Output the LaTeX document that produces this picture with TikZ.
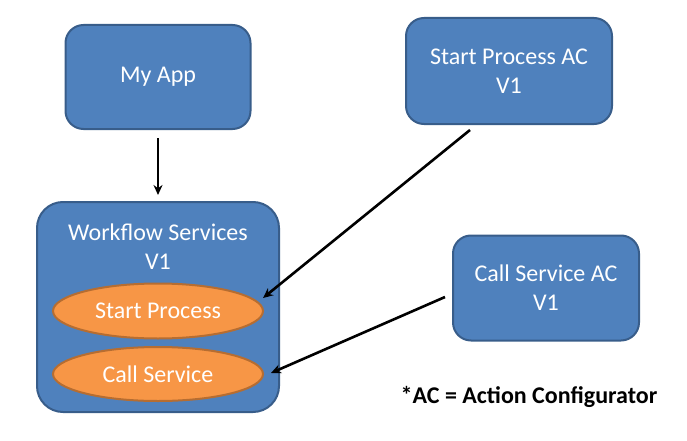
\documentclass[tikz,border=0pt]{standalone}
\usepackage{fontspec}
\setmainfont{Carlito}
\usetikzlibrary{shapes.geometric,arrows.meta}
\definecolor{boxfill}{HTML}{4F81BD}
\definecolor{boxline}{HTML}{385D8A}
\definecolor{ellfill}{HTML}{F79646}
\definecolor{ellline}{HTML}{B66D31}
\begin{document}
\begin{tikzpicture}[x=1pt,y=-1pt,
  bluebox/.style={draw=boxline,fill=boxfill,line width=2pt,rounded corners=18pt,text=white,font=\fontsize{24}{29}\selectfont,align=center,inner sep=0pt},
  ellbox/.style={draw=ellline,fill=ellfill,line width=2pt,ellipse,text=white,font=\fontsize{24}{29}\selectfont,inner sep=0pt},
  arr/.style={line width=2.6pt,-{Stealth[length=10pt,width=9pt]}}]
\useasboundingbox (0,0) rectangle (687,441);
\node[bluebox,minimum width=185pt,minimum height=104pt] (app) at (158,77) {My App};
\node[bluebox,minimum width=242pt,minimum height=210pt,rounded corners=26pt] (wf) at (158,307) {};
\node[text=white,font=\fontsize{24}{29}\selectfont,align=center] (wft) at (158,247) {Workflow Services\\V1};
\node[ellbox,minimum width=210pt,minimum height=55pt] (sp) at (158,311) {Start Process};
\node[ellbox,minimum width=210pt,minimum height=54pt] (cs) at (158,374) {Call Service};
\node[bluebox,minimum width=206pt,minimum height=106pt] (spac) at (509,71) {Start Process AC\\V1};
\node[bluebox,minimum width=186pt,minimum height=105pt] (csac) at (546,288) {Call Service AC\\V1};
\node[font=\bfseries\fontsize{24}{29}\selectfont] (note) at (529,397) {*AC = Action Configurator};
\coordinate (a1s) at (158,138);
\coordinate (a1e) at (158,195);
\coordinate (a2s) at (470,130);
\coordinate (a2e) at (263,298);
\coordinate (a3s) at (445,297);
\coordinate (a3e) at (271,373);
\draw[arr] (a1s) -- (a1e);
\draw[arr] (a2s) -- (a2e);
\draw[arr] (a3s) -- (a3e);
\end{tikzpicture}
\end{document}
